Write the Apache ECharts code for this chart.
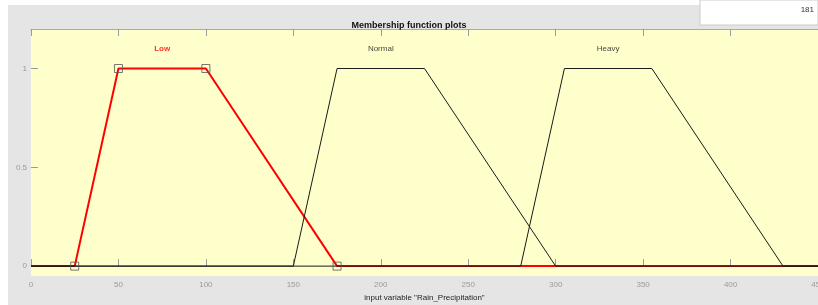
<!DOCTYPE html>
<html>
<head>
<meta charset="utf-8">
<script src="https://cdn.jsdelivr.net/npm/echarts@6/dist/echarts.min.js"></script>
<style>
  html, body { margin: 0; padding: 0; background: #fff; }
  #chart { width: 818px; height: 305px; }
</style>
</head>
<body>
<div id="chart"></div>
<script>
// trapezoid params [a, b, c, d] for each membership function
var mfNames = ['Low', 'Normal', 'Heavy']
var lowParams = [25, 50, 100, 175]
var normalParams = [150, 175, 225, 300]
var heavyParams = [280, 305, 355, 430]
var xRange = [0, 450]
var yTicks = [0, 0.5, 1]
var labelX = [75, 200, 330]
var labelY = 1.1

function trapLine(p) {
  return [[xRange[0], 0], [p[0], 0], [p[1], 1], [p[2], 1], [p[3], 0], [xRange[1], 0]]
}
function vertices(p) {
  return [[p[0], 0], [p[1], 1], [p[2], 1], [p[3], 0]]
}

var chart = echarts.init(document.getElementById('chart'))

var tickLabel = { color: '#9a9a9a', fontSize: 8, fontFamily: 'Liberation Sans' }

chart.setOption({
  backgroundColor: '#e5e5e5',
  animation: false,
  title: {
    text: 'Membership function plots',
    left: 'center',
    top: 16,
    textStyle: { fontSize: 9, fontWeight: 'bold', color: '#111', fontFamily: 'Liberation Sans' }
  },
  grid: {
    left: 31, right: 0, top: 29, bottom: 29,
    outerBoundsMode: 'none',
    containLabel: false,
    show: true,
    backgroundColor: '#ffffcc',
    borderWidth: 0
  },
  xAxis: [
    {
      type: 'value',
      min: xRange[0], max: xRange[1], interval: 50,
      position: 'bottom',
      axisLine: { show: false },
      splitLine: { show: false },
      axisTick: { inside: true, length: 7, lineStyle: { color: '#9a9a9a' } },
      axisLabel: Object.assign({ margin: 5 }, tickLabel),
      name: 'input variable "Rain_Precipitation"',
      nameLocation: 'middle',
      nameGap: 17,
      nameTextStyle: { fontSize: 8, color: '#222', fontFamily: 'Liberation Sans' }
    },
    {
      type: 'value',
      min: xRange[0], max: xRange[1], interval: 50,
      position: 'top',
      axisLine: { show: true, lineStyle: { color: '#aaaaaa', width: 1 } },
      splitLine: { show: false },
      axisTick: { inside: true, length: 7, lineStyle: { color: '#9a9a9a' } },
      axisLabel: { show: false }
    }
  ],
  yAxis: {
    type: 'value',
    min: -0.05, max: 1.2,
    axisLine: { show: false },
    splitLine: { show: false },
    axisTick: { inside: true, length: 7, customValues: yTicks, lineStyle: { color: '#9a9a9a' } },
    axisLabel: Object.assign({ customValues: yTicks, margin: 4 }, tickLabel)
  },
  series: [
    {
      name: mfNames[0], type: 'line', data: trapLine(lowParams),
      symbol: 'none', lineStyle: { color: '#ff0000', width: 2 }, z: 2
    },
    {
      name: mfNames[1], type: 'line', data: trapLine(normalParams),
      symbol: 'none', lineStyle: { color: '#1a1a1a', width: 1 }, z: 3
    },
    {
      name: mfNames[2], type: 'line', data: trapLine(heavyParams),
      symbol: 'none', lineStyle: { color: '#1a1a1a', width: 1 }, z: 3
    },
    {
      type: 'scatter', data: vertices(lowParams),
      symbol: 'rect', symbolSize: 8,
      itemStyle: { color: 'rgba(0,0,0,0)', borderColor: '#555', borderWidth: 1 }, z: 4
    },
    {
      type: 'scatter',
      data: mfNames.map(function (n, i) {
        return {
          name: n, value: [labelX[i], labelY],
          label: i === 0 ? { color: '#ff0000', fontWeight: 'bold' } : { color: '#111' }
        }
      }),
      symbolSize: 0,
      label: {
        show: true, position: 'inside', formatter: '{b}', fontSize: 8,
        fontFamily: 'Liberation Sans'
      },
      itemStyle: { color: 'rgba(0,0,0,0)' },
      z: 5
    }
  ],
  graphic: [
    { type: 'rect', shape: { x: 0, y: 0, width: 818, height: 5 }, style: { fill: '#fff' } },
    { type: 'rect', shape: { x: 0, y: 0, width: 8, height: 305 }, style: { fill: '#fff' } },
    { type: 'rect', shape: { x: 700, y: 0, width: 118, height: 25 }, style: { fill: '#fff', stroke: '#cccccc', lineWidth: 1 } },
    { type: 'text', right: 4, top: 6, style: { text: '181', fontSize: 8, fill: '#333', fontFamily: 'Liberation Sans' } }
  ]
})
</script>
</body>
</html>
